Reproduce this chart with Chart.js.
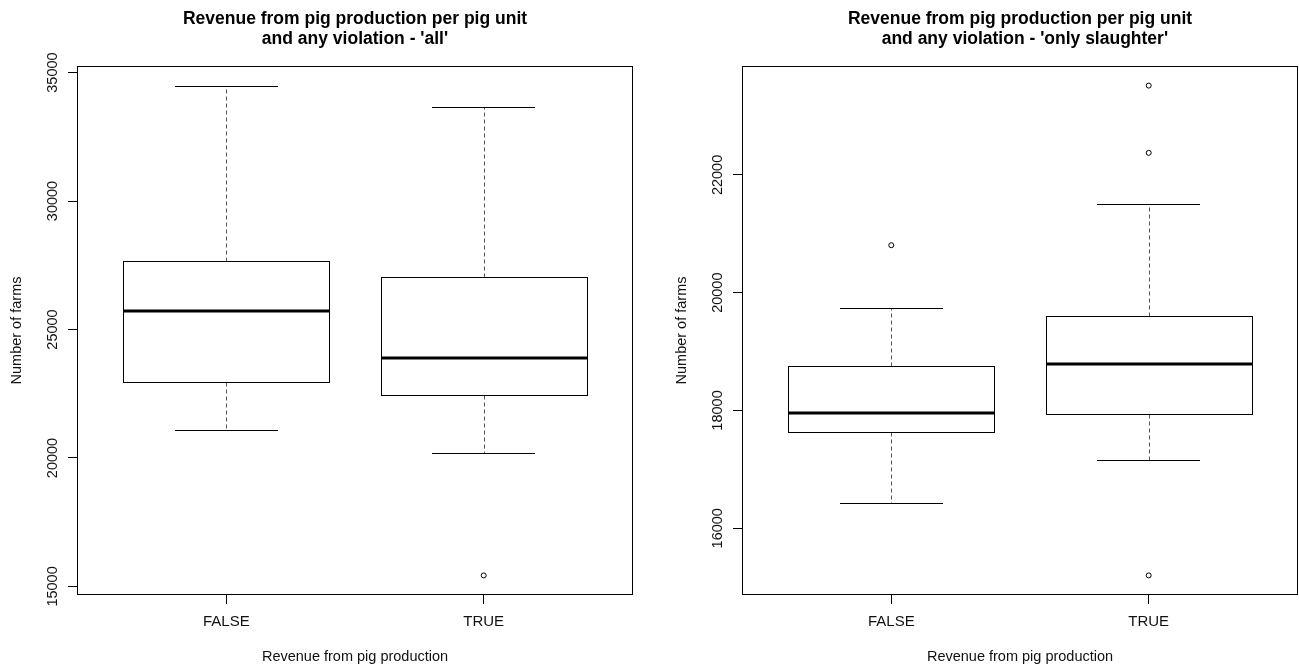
<!DOCTYPE html>
<html>
<head>
<meta charset="utf-8">
<title>Revenue from pig production per pig unit</title>
<script src="https://cdn.jsdelivr.net/npm/chart.js@4.4.1/dist/chart.umd.min.js"></script>
<style>
  html, body { margin: 0; padding: 0; background: #fff; overflow: hidden; }
  #wrap { position: relative; width: 1299px; height: 667px; overflow: hidden; }
  canvas { position: absolute; top: 0; }
  #chartAll { left: 0; }
  #chartSlaughter { left: 665px; }
</style>
</head>
<body>
<div id="wrap">
  <canvas id="chartAll" width="710" height="667"></canvas>
  <canvas id="chartSlaughter" width="710" height="667"></canvas>
</div>
<script>
// groups on the x axis
const categories = ['FALSE', 'TRUE'];

// panel 1 - 'all'
const allLowWhisker = [21094, 20195];
const allQ1 = [22969, 22461];
const allMedian = [25703, 23906];
const allQ3 = [27656, 27031];
const allHighWhisker = [34492, 33672];
const allOutliers = [[], [15430]];
const allYTicks = [15000, 20000, 25000, 30000, 35000];

// panel 2 - 'only slaughter'
const slLowWhisker = [16426, 17159];
const slQ1 = [17637, 17944];
const slMedian = [17961, 18796];
const slQ3 = [18761, 19596];
const slHighWhisker = [19732, 21505];
const slOutliers = [[20806], [23517, 22375, 15199]];
const slYTicks = [16000, 18000, 20000, 22000];

Chart.defaults.font.family = '"Liberation Sans", Arial, sans-serif';
Chart.defaults.color = '#111';

// boxes, whiskers and medians, drawn on the chart's own scales
function boxPlugin(lo, q1, med, q3, hi) {
    return {
        id: 'boxes',
        afterDatasetsDraw(chart) {
            const ctx = chart.ctx;
            const x = chart.scales.x;
            const y = chart.scales.y;
            ctx.save();
            ctx.strokeStyle = '#000';
            categories.forEach((c, i) => {
                const cx = x.getPixelForValue(i + 1);
                const half = x.getPixelForValue(i + 1.4) - cx;
                const cap = half / 2;
                const left = Math.round(cx - half) + 0.5;
                const right = Math.round(cx + half) + 0.5;
                const mid = Math.round(cx) + 0.5;
                const yLo = Math.round(y.getPixelForValue(lo[i])) + 0.5;
                const yQ1 = Math.round(y.getPixelForValue(q1[i])) + 0.5;
                const yQ3 = Math.round(y.getPixelForValue(q3[i])) + 0.5;
                const yHi = Math.round(y.getPixelForValue(hi[i])) + 0.5;
                const yMed = Math.round(y.getPixelForValue(med[i]));

                // dashed whiskers
                ctx.lineWidth = 1;
                ctx.strokeStyle = '#555';
                ctx.setLineDash([4, 3]);
                ctx.beginPath();
                ctx.moveTo(mid, yQ3); ctx.lineTo(mid, yHi);
                ctx.moveTo(mid, yQ1); ctx.lineTo(mid, yLo);
                ctx.stroke();
                ctx.setLineDash([]);
                ctx.strokeStyle = '#000';

                // staples
                ctx.beginPath();
                ctx.moveTo(Math.round(cx - cap), yHi); ctx.lineTo(Math.round(cx + cap), yHi);
                ctx.moveTo(Math.round(cx - cap), yLo); ctx.lineTo(Math.round(cx + cap), yLo);
                ctx.stroke();

                // box
                ctx.strokeRect(left, yQ3, right - left, yQ1 - yQ3);

                // median
                ctx.lineWidth = 3;
                ctx.beginPath();
                ctx.moveTo(left, yMed); ctx.lineTo(right, yMed);
                ctx.stroke();
            });
            ctx.restore();
        },
        afterDraw(chart) {
            const {ctx, chartArea} = chart;
            ctx.save();
            ctx.strokeStyle = '#000';
            ctx.lineWidth = 1;
            const l = Math.round(chartArea.left) + 0.5;
            const t = Math.round(chartArea.top) + 0.5;
            const r = Math.round(chartArea.right) - 0.5;
            const b = Math.round(chartArea.bottom) - 0.5;
            ctx.strokeRect(l, t, r - l, b - t);
            ctx.restore();
        }
    };
}

function makeChart(id, titleLines, lo, q1, med, q3, hi, outliers, yTicks) {
    // R-style axis range: data range extended by 4% each side
    const all = lo.concat(hi).concat(outliers.flat());
    const dMin = Math.min(...all);
    const dMax = Math.max(...all);
    const pad = (dMax - dMin) * 0.04;

    const points = [];
    outliers.forEach((list, i) => {
        list.forEach(v => points.push({ x: i + 1, y: v }));
    });

    return new Chart(document.getElementById(id), {
        type: 'scatter',
        data: {
            datasets: [{
                data: points,
                pointStyle: 'circle',
                pointRadius: 2.5,
                backgroundColor: '#fff',
                borderColor: '#000',
                borderWidth: 1
            }]
        },
        options: {
            responsive: false,
            animation: false,
            events: [],
            layout: { padding: 0 },
            plugins: {
                legend: { display: false },
                tooltip: { enabled: false },
                title: {
                    display: true,
                    text: titleLines,
                    color: '#000',
                    font: { size: 17.5, weight: 'bold', lineHeight: 1.1 },
                    padding: { top: 10, bottom: 17.5 }
                }
            },
            scales: {
                x: {
                    type: 'linear',
                    min: 0.42,
                    max: 2.58,
                    afterBuildTicks: s => { s.ticks = categories.map((c, i) => ({ value: i + 1 })); },
                    afterFit: s => { s.height = 72; },
                    grid: { drawOnChartArea: false, tickLength: 9, color: '#000' },
                    border: { display: false },
                    ticks: {
                        callback: v => categories[v - 1],
                        font: { size: 15 },
                        padding: 9,
                        maxRotation: 0,
                        autoSkip: false
                    },
                    title: {
                        display: true,
                        text: 'Revenue from pig production',
                        font: { size: 14.5 },
                        padding: { top: 0, bottom: 1 }
                    }
                },
                y: {
                    min: dMin - pad,
                    max: dMax + pad,
                    afterBuildTicks: s => { s.ticks = yTicks.map(v => ({ value: v })); },
                    afterFit: s => { s.width = 77; },
                    grid: { drawOnChartArea: false, tickLength: 9, color: '#000' },
                    border: { display: false },
                    ticks: {
                        callback: v => String(v),
                        minRotation: 90,
                        maxRotation: 90,
                        crossAlign: 'center',
                        padding: -5,
                        font: { size: 14.5 },
                        autoSkip: false
                    },
                    title: {
                        display: true,
                        text: 'Number of farms',
                        font: { size: 14.5 },
                        padding: { top: 8 }
                    }
                },
                yRight: {
                    position: 'right',
                    grid: { display: false },
                    ticks: { display: false },
                    border: { display: false },
                    afterFit: s => { s.width = 77; }
                }
            }
        },
        plugins: [boxPlugin(lo, q1, med, q3, hi)]
    });
}

makeChart('chartAll',
    ['Revenue from pig production per pig unit', "and any violation - 'all'"],
    allLowWhisker, allQ1, allMedian, allQ3, allHighWhisker, allOutliers, allYTicks);

makeChart('chartSlaughter',
    ['Revenue from pig production per pig unit', "  and any violation - 'only slaughter'"],
    slLowWhisker, slQ1, slMedian, slQ3, slHighWhisker, slOutliers, slYTicks);
</script>
</body>
</html>
